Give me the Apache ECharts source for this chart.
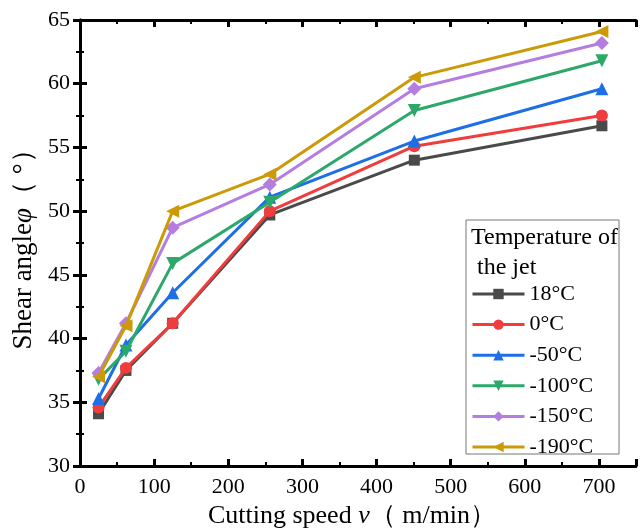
<!DOCTYPE html>
<html><head><meta charset="utf-8">
<script src="https://cdn.jsdelivr.net/npm/echarts@6/dist/echarts.min.js"></script>
<style>html,body{margin:0;padding:0;background:#fff}#c{width:640px;height:528px}</style>
</head><body><div id="c"></div>
<script>
const speeds = [25, 62, 125, 256, 451, 704];
const names = ['18°C', '0°C', '-50°C', '-100°C', '-150°C', '-190°C'];
const s18 = [34.1, 37.5, 41.2, 49.7, 54.0, 56.7];
const s0 = [34.6, 37.7, 41.2, 50.0, 55.1, 57.5];
const s50 = [35.3, 39.5, 43.6, 51.1, 55.5, 59.6];
const s100 = [36.8, 39.0, 45.9, 50.7, 57.9, 61.8];
const s150 = [37.3, 41.2, 48.7, 52.1, 59.6, 63.2];
const s190 = [37.0, 41.0, 50.0, 52.9, 60.5, 64.1];
const allValues = [s18, s0, s50, s100, s150, s190];
const colors = ['#4a4a4a', '#f03c3c', '#1e6fe6', '#2ca86a', '#b47de0', '#cc9a06'];
const symbols = ['rect', 'circle', 'triangle', 'triangle', 'diamond', 'triangle'];
const rotations = [0, 0, 0, 180, 0, 90];
const sizes = [11, 12, 13, 13, 14, 13];

const font = 'Liberation Serif';
const chart = echarts.init(document.getElementById('c'));
const series = allValues.map((vals, i) => ({
  name: names[i], type: 'line', data: vals.map((v, j) => [speeds[j], v]),
  symbol: symbols[i], symbolRotate: rotations[i], symbolSize: sizes[i],
  lineStyle: {width: 3, color: colors[i]}, itemStyle: {color: colors[i]},
  emphasis: {disabled: true}, z: 2 + i
}));
const axisCommon = {
  axisLine: {show: true, lineStyle: {color: '#000', width: 3}},
  axisTick: {show: true, inside: true, length: 7, lineStyle: {color: '#000', width: 3}},
  minorTick: {show: true, splitNumber: 2, length: 4, lineStyle: {color: '#000', width: 2}},
  splitLine: {show: false}
};
chart.setOption({
  animation: false,
  grid: {left: 80, right: 4, top: 20, bottom: 62, containLabel: false, outerBoundsMode: 'none'},
  xAxis: [
    Object.assign({type: 'value', min: 0, max: 750, interval: 100,
      axisLabel: {fontFamily: font, fontSize: 22, color: '#000', margin: 10, showMaxLabel: false},
      name: 'Cutting speed {i|v}（ m/min）', nameLocation: 'middle', nameGap: 36,
      nameTextStyle: {fontFamily: font, fontSize: 26, color: '#000', padding: [0, 12, 0, 0],
        rich: {i: {fontFamily: font, fontSize: 26, fontStyle: 'italic', color: '#000'}}}
    }, axisCommon),
    Object.assign({type: 'value', min: 0, max: 750, interval: 100, position: 'top',
      axisLabel: {show: false}}, axisCommon)
  ],
  yAxis: [
    Object.assign({type: 'value', min: 30, max: 65, interval: 5,
      axisLabel: {fontFamily: font, fontSize: 22, color: '#000', margin: 10},
      name: 'Shear angle{i|φ}（ °）', nameLocation: 'middle', nameGap: 33,
      nameTextStyle: {fontFamily: font, fontSize: 27, color: '#000',
        rich: {i: {fontFamily: font, fontSize: 27, fontStyle: 'italic', color: '#000'}}}
    }, axisCommon),
    Object.assign({type: 'value', min: 30, max: 65, interval: 5, position: 'right',
      axisLabel: {show: false}}, axisCommon)
  ],
  title: {text: 'Temperature of\n the jet', left: 466, top: 218, z: 20,
    textStyle: {fontFamily: font, fontSize: 24, fontWeight: 'normal', color: '#000', lineHeight: 30}},
  legend: {orient: 'vertical', left: 466, top: 278, itemWidth: 52, itemHeight: 13, itemGap: 8.6, z: 20,
    lineStyle: {width: 3},
    data: names, textStyle: {fontFamily: font, fontSize: 22, color: '#000'}, selectedMode: false},
  graphic: [{type: 'rect', shape: {x: 466, y: 220, width: 153, height: 234}, z: 1,
    style: {fill: '#fff', stroke: '#777', lineWidth: 1}, silent: true}],
  series: series
});
</script></body></html>
